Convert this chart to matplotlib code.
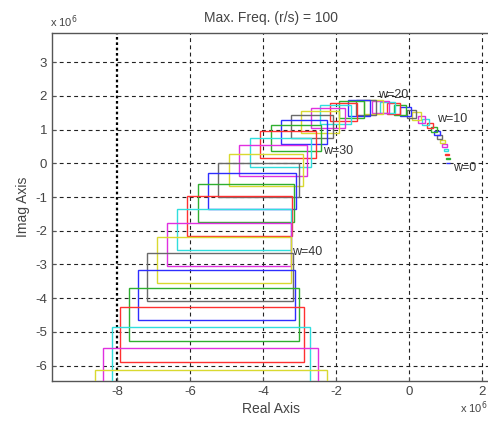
import matplotlib
matplotlib.use("Agg")
import matplotlib.pyplot as plt
from matplotlib.patches import Rectangle

plt.rcParams['font.family'] = ['Liberation Sans', 'DejaVu Sans']

# frequencies (rad/s) of the plotted value-set rectangles
freq = [0, 1, 2, 3, 4, 5, 6, 7, 8, 9, 10, 11, 12, 13, 14, 15, 16, 17, 18, 19,
        20, 21, 22, 23, 24, 25, 26, 27, 28, 29, 30, 31, 32, 33, 34, 35, 36, 37,
        38, 39, 40, 41, 42, 43, 44, 45, 46, 47]

# rectangle centre (real, imag) and half sizes, units of 1e6
re_mid = [1.070, 1.064, 1.045, 1.014, 0.972, 0.916, 0.849, 0.771, 0.680, 0.579,
          0.466, 0.343, 0.210, 0.067, -0.086, -0.247, -0.417, -0.594, -0.779, -0.971,
          -1.168, -1.371, -1.579, -1.790, -2.004, -2.221, -2.439, -2.657, -2.875, -3.091,
          -3.305, -3.515, -3.721, -3.921, -4.114, -4.300, -4.476, -4.641, -4.795, -4.936,
          -5.062, -5.173, -5.266, -5.340, -5.394, -5.427, -5.436, -5.420]
re_half = [0.055, 0.055, 0.057, 0.058, 0.061, 0.065, 0.069, 0.074, 0.081, 0.088,
           0.097, 0.107, 0.118, 0.131, 0.145, 0.162, 0.180, 0.201, 0.224, 0.249,
           0.277, 0.309, 0.343, 0.381, 0.422, 0.468, 0.518, 0.572, 0.631, 0.695,
           0.765, 0.840, 0.921, 1.009, 1.104, 1.206, 1.316, 1.433, 1.559, 1.694,
           1.837, 1.991, 2.155, 2.329, 2.514, 2.715, 2.940, 3.170]
im_mid = [0.000, 0.135, 0.269, 0.401, 0.531, 0.658, 0.781, 0.899, 1.012, 1.119,
          1.219, 1.311, 1.394, 1.469, 1.533, 1.586, 1.628, 1.657, 1.673, 1.675,
          1.662, 1.634, 1.590, 1.528, 1.449, 1.351, 1.234, 1.097, 0.938, 0.758,
          0.556, 0.330, 0.080, -0.195, -0.495, -0.822, -1.175, -1.557, -1.967, -2.407,
          -2.877, -3.378, -3.911, -4.476, -5.075, -5.707, -6.375, -7.078]
im_half = [0.000, 0.009, 0.018, 0.027, 0.036, 0.045, 0.055, 0.064, 0.074, 0.084,
           0.095, 0.105, 0.116, 0.127, 0.139, 0.151, 0.164, 0.177, 0.191, 0.205,
           0.219, 0.235, 0.251, 0.267, 0.285, 0.303, 0.322, 0.341, 0.362, 0.383,
           0.405, 0.428, 0.452, 0.477, 0.503, 0.530, 0.558, 0.588, 0.618, 0.649,
           0.682, 0.716, 0.751, 0.788, 0.825, 0.864, 0.905, 0.947]

# frequency annotations
label_text = ["w=0", "w=10", "w=20", "w=30", "w=40"]
label_x = [1.21, 0.77, -0.85, -2.36, -3.21]
label_y = [-0.14, 1.32, 2.03, 0.37, -2.63]

xticks = [-8, -6, -4, -2, 0, 2]
yticks = [-6, -5, -4, -3, -2, -1, 0, 1, 2, 3]

colors = ['#2e2eff', '#2faf2f', '#ff3030', '#30dede', '#e030e0', '#d9d930', '#6a6a6a']

fig = plt.figure(figsize=(4.89, 4.23), dpi=100)
ax = fig.add_axes([52 / 489, 42 / 423, (491 - 52) / 489, (381 - 33.3) / 423])

ax.set_xlim(-9.78, 2.25)
ax.set_ylim(-6.46, 3.86)
ax.set_xticks(xticks)
ax.set_yticks(yticks)

# grid
for xv in xticks:
    if xv == -8:
        ax.axvline(xv, color='black', lw=1.6, ls=(0, (1.2, 1.2)), zorder=1)
    else:
        ax.axvline(xv, color='#222222', lw=0.8, ls=(0, (3.5, 3)), zorder=1)
for yv in yticks:
    ax.axhline(yv, color='#222222', lw=0.8, ls=(0, (3.5, 3)), zorder=1)

for i, w in enumerate(freq):
    c = colors[w % 7]
    r = Rectangle((re_mid[i] - re_half[i], im_mid[i] - im_half[i]),
                  2 * re_half[i], 2 * im_half[i],
                  fill=False, edgecolor=c, lw=1.0, zorder=3)
    ax.add_patch(r)

for t, x, y in zip(label_text, label_x, label_y):
    ax.text(x, y, t, fontsize=9, color='#333333', ha='left', va='center', zorder=4)

for s in ax.spines.values():
    s.set_color('#555555')
    s.set_linewidth(1.0)
ax.tick_params(direction='in', length=3, colors='#555555', labelcolor='#444444',
               labelsize=9.5, width=0.8, top=False, right=False)
ax.set_yticklabels([str(v) for v in yticks])
ax.set_xticklabels([str(v) for v in xticks])

ax.set_xlabel('Real Axis', fontsize=10, color='#444444', labelpad=3)
ax.set_ylabel('Imag Axis', fontsize=10, color='#444444', labelpad=4)
ax.set_title('Max. Freq. (r/s) = 100', fontsize=10, color='#444444', pad=8)

fig.text(50 / 489, 1 - 22 / 423, r'x 10$^6$', fontsize=8, color='#444444',
         ha='left', va='center')
fig.text(460 / 489, 1 - 408 / 423, r'x 10$^6$', fontsize=8, color='#444444',
         ha='left', va='center')

fig.savefig('out.png', dpi=100)
